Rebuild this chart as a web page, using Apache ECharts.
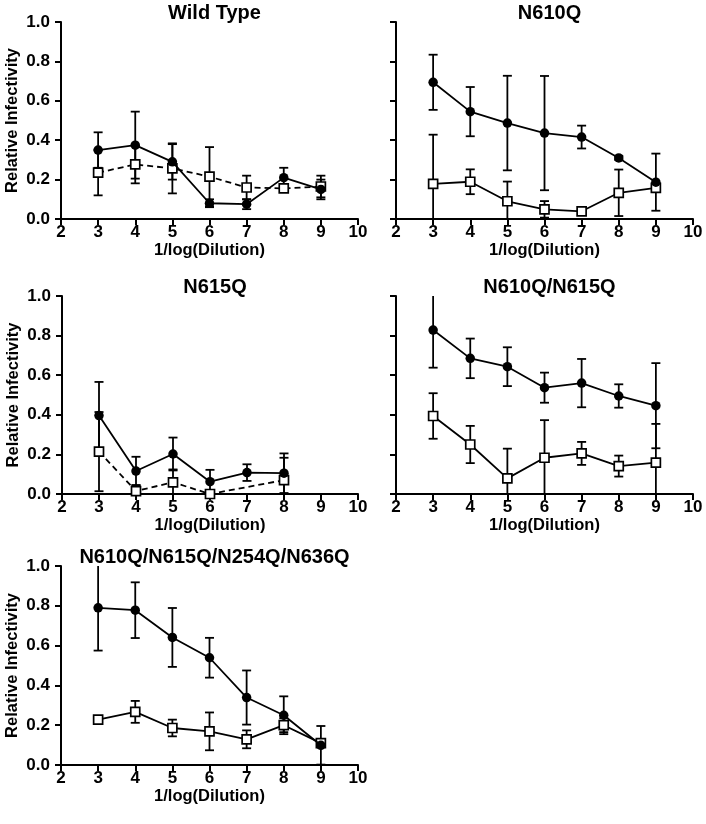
<!DOCTYPE html>
<html>
<head>
<meta charset="utf-8">
<script src="https://cdn.jsdelivr.net/npm/echarts@6/dist/echarts.min.js"></script>
<style>html,body{margin:0;padding:0;background:#fff}#c{width:706px;height:824px}</style>
</head>
<body>
<div id="c"></div>
<script>
const dilution = [3, 4, 5, 6, 7, 8, 9];
const dilution615 = [3, 4, 5, 6, 7, 8];
const xTicks = [2, 3, 4, 5, 6, 7, 8, 9, 10];
const yTicks = [0.0, 0.2, 0.4, 0.6, 0.8, 1.0];

const panelTitles = ['Wild Type', 'N610Q', 'N615Q', 'N610Q/N615Q', 'N610Q/N615Q/N254Q/N636Q'];

// filled circles / open squares, mean and error
const wtCircle = [0.35, 0.375, 0.29, 0.08, 0.075, 0.21, 0.15];
const wtCircleErr = [0.09, 0.17, 0.09, 0.02, 0.025, 0.05, 0.05];
const wtSquare = [0.235, 0.277, 0.257, 0.215, 0.16, 0.155, 0.165];
const wtSquareErr = [0.115, 0.096, 0.127, 0.15, 0.06, 0.01, 0.055];

const n610Circle = [0.694, 0.545, 0.487, 0.436, 0.416, 0.31, 0.187];
const n610CircleErr = [0.14, 0.125, 0.24, 0.29, 0.058, 0.01, 0.145];
const n610Square = [0.178, 0.189, 0.09, 0.049, 0.039, 0.133, 0.158];
const n610SquareErr = [0.25, 0.063, 0.1, 0.042, 0.018, 0.118, 0.02];

const n615Circle = [0.396, 0.116, 0.202, 0.062, 0.108, 0.105];
const n615CircleErr = [0.17, 0.072, 0.083, 0.06, 0.042, 0.1];
const n615Square = [0.214, 0.015, 0.059, 0, null, 0.07];
const n615SquareErr = [0.2, 0.03, 0.065, 0, null, 0.113];

const dblCircle = [0.828, 0.685, 0.643, 0.537, 0.56, 0.495, 0.446];
const dblCircleErr = [0.19, 0.1, 0.098, 0.076, 0.122, 0.059, 0.215];
const dblSquare = [0.394, 0.25, 0.079, 0.183, 0.205, 0.141, 0.158];
const dblSquareErr = [0.115, 0.094, 0.15, 0.19, 0.058, 0.053, 0.196];

const quadCircle = [0.79, 0.778, 0.641, 0.539, 0.339, 0.25, 0.099];
const quadCircleErr = [0.215, 0.14, 0.148, 0.1, 0.136, 0.095, 0.097];
const quadSquare = [0.228, 0.267, 0.186, 0.169, 0.129, 0.2, 0.11];
const quadSquareErr = [0.015, 0.055, 0.042, 0.095, 0.045, 0.035, 0.02];

const panels = [
  {x: dilution, c: wtCircle, ce: wtCircleErr, s: wtSquare, se: wtSquareErr, dashed: true, labels: true},
  {x: dilution, c: n610Circle, ce: n610CircleErr, s: n610Square, se: n610SquareErr, dashed: false, labels: false},
  {x: dilution615, c: n615Circle, ce: n615CircleErr, s: n615Square, se: n615SquareErr, dashed: true, labels: true},
  {x: dilution, c: dblCircle, ce: dblCircleErr, s: dblSquare, se: dblSquareErr, dashed: false, labels: false},
  {x: dilution, c: quadCircle, ce: quadCircleErr, s: quadSquare, se: quadSquareErr, dashed: false, labels: true}
];

const grids = [
  {left: 61, top: 22, width: 297, height: 197},
  {left: 396, top: 22, width: 297, height: 197},
  {left: 62, top: 296, width: 296, height: 198},
  {left: 396, top: 296, width: 297, height: 198},
  {left: 61, top: 566, width: 297, height: 199}
];

const FONT = '"Liberation Sans", Arial, sans-serif';
const YMAX = yTicks[yTicks.length - 1];

const xAxes = [], yAxes = [], series = [], titles = [];
panels.forEach((p, i) => {
  const g = grids[i];
  titles.push({
    text: panelTitles[i],
    left: g.left + g.width / 2, top: g.top - 24, textAlign: 'center',
    textStyle: {fontFamily: FONT, fontWeight: 'bold', fontSize: 20, color: '#000'}
  });
  xAxes.push({
    gridIndex: i, type: 'value', min: xTicks[0], max: xTicks[xTicks.length - 1], interval: 1,
    name: '1/log(Dilution)', nameLocation: 'middle', nameGap: 16,
    nameTextStyle: {fontFamily: FONT, fontWeight: 'bold', fontSize: 16.5, color: '#000'},
    axisLine: {onZero: false, lineStyle: {color: '#000', width: 2}},
    axisTick: {show: true, length: 6, lineStyle: {color: '#000', width: 2}},
    axisLabel: {fontFamily: FONT, fontWeight: 'bold', fontSize: 17, color: '#000', margin: 5},
    splitLine: {show: false}
  });
  yAxes.push({
    gridIndex: i, type: 'value', min: yTicks[0], max: YMAX, interval: 0.2,
    name: p.labels ? 'Relative Infectivity' : '', nameLocation: 'middle', nameGap: 40,
    nameTextStyle: {fontFamily: FONT, fontWeight: 'bold', fontSize: 16.5, color: '#000'},
    axisLine: {show: true, onZero: false, lineStyle: {color: '#000', width: 2}},
    axisTick: {show: true, length: 6, lineStyle: {color: '#000', width: 2}},
    axisLabel: {show: p.labels, fontFamily: FONT, fontWeight: 'bold', fontSize: 17, color: '#000', margin: 11,
      formatter: v => v.toFixed(1)},
    splitLine: {show: false}
  });

  function errData(vals, errs) {
    const out = [];
    vals.forEach((v, k) => {
      if (v == null || errs[k] == null) return;
      const lo = v - errs[k], hi = v + errs[k];
      out.push([p.x[k], Math.max(0, lo), Math.min(YMAX, hi), lo >= 0 ? 1 : 0, hi <= YMAX ? 1 : 0]);
    });
    return out;
  }
  function renderErr(params, api) {
    const x = api.value(0);
    const lo = api.coord([x, api.value(1)]);
    const hi = api.coord([x, api.value(2)]);
    const w = 4.5;
    const st = {stroke: '#000', lineWidth: 1.8, fill: null};
    const children = [{type: 'line', shape: {x1: lo[0], y1: lo[1], x2: hi[0], y2: hi[1]}, style: st}];
    if (api.value(3)) children.push({type: 'line', shape: {x1: lo[0] - w, y1: lo[1], x2: lo[0] + w, y2: lo[1]}, style: st});
    if (api.value(4)) children.push({type: 'line', shape: {x1: hi[0] - w, y1: hi[1], x2: hi[0] + w, y2: hi[1]}, style: st});
    return {type: 'group', children: children};
  }
  series.push({
    type: 'custom', xAxisIndex: i, yAxisIndex: i, z: 1, clip: false,
    renderItem: renderErr, data: errData(p.s, p.se)
  });
  series.push({
    type: 'custom', xAxisIndex: i, yAxisIndex: i, z: 1, clip: false,
    renderItem: renderErr, data: errData(p.c, p.ce)
  });
  series.push({
    type: 'line', xAxisIndex: i, yAxisIndex: i, z: 3, connectNulls: true,
    data: p.s.map((v, k) => [p.x[k], v]),
    symbol: 'rect', symbolSize: 9, showAllSymbol: true,
    lineStyle: {color: '#000', width: 1.8, type: p.dashed ? [6, 4] : 'solid'},
    itemStyle: {color: '#fff', borderColor: '#000', borderWidth: 1.7}
  });
  series.push({
    type: 'line', xAxisIndex: i, yAxisIndex: i, z: 4,
    data: p.c.map((v, k) => [p.x[k], v]),
    symbol: 'circle', symbolSize: 9.5, showAllSymbol: true,
    lineStyle: {color: '#000', width: 1.8},
    itemStyle: {color: '#000', borderColor: '#000', borderWidth: 0}
  });
});

const chart = echarts.init(document.getElementById('c'), null, {renderer: 'canvas'});
chart.setOption({
  animation: false,
  backgroundColor: '#fff',
  title: titles,
  grid: grids,
  xAxis: xAxes,
  yAxis: yAxes,
  series: series
});
</script>
</body>
</html>
